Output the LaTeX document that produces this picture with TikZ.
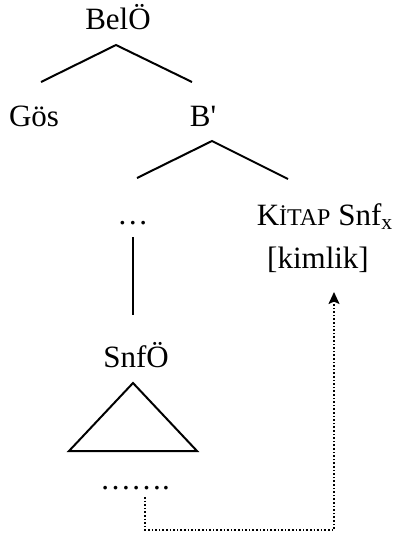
\documentclass[tikz,border=0pt]{standalone}
\usepackage{fontspec}
\setmainfont{Liberation Serif}[Ligatures=TeXOff]
\usetikzlibrary{arrows.meta}

\begin{document}
\begin{tikzpicture}[x=0.5pt,y=-0.5pt,
  lbl/.style={anchor=base,inner sep=0pt,font=\fontsize{15.5}{18}\selectfont},
  branch/.style={line width=1pt},
  link/.style={densely dotted,line width=0.8pt,-{Stealth[length=6pt,width=5.5pt,inset=1.2pt]}}]
\useasboundingbox (0,0) rectangle (396,542);
% labels of the tree
\node[lbl] (belO) at (118,29) {BelÖ};
\node[lbl] (gos) at (34,126) {Gös};
\node[lbl] (bbar) at (203,126) {B'};
\node[lbl] (gap) at (133,224) {…};
\node[lbl] (kitap) at (325,225) {K{\fontsize{12}{14}\selectfont İTAP} Snf\textsubscript{x}};
\node[lbl] (kim) at (318,268) {[kimlik]};
\node[lbl] (snfO) at (136,367) {SnfÖ};
\node[lbl] (filler) at (135,489) {…….};
% branches
\coordinate (top) at (116,45);
\coordinate (topl) at (41,82);
\coordinate (topr) at (192,82);
\draw[branch] (topl) -- (top) -- (topr);
\coordinate (mid) at (212,141);
\coordinate (midl) at (137,178);
\coordinate (midr) at (288,179);
\draw[branch] (midl) -- (mid) -- (midr);
\coordinate (vtop) at (133,237);
\coordinate (vbot) at (133,315);
\draw[branch] (vtop) -- (vbot);
% triangle under SnfÖ
\draw[branch] (133,383) -- (69,451) -- (197,451) -- cycle;
% dotted link up to [kimlik]
\coordinate (from) at (145,497);
\coordinate (tip) at (334,292);
\draw[link] (from) -- ++(0,33) -| (tip);
\end{tikzpicture}
\end{document}
